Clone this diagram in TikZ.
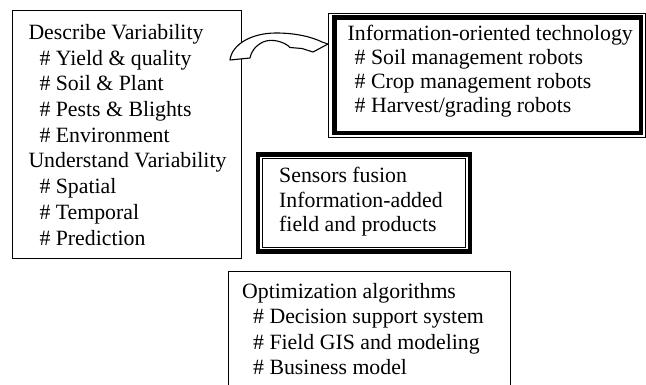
\documentclass[tikz,border=0pt]{standalone}
\usepackage{fontspec}
\setmainfont{Liberation Serif}
% lines of a text block; the block's baseline is that of its first line
\newcommand\stacklines[1]{\vtop{\halign{##\hfil\cr#1\crcr}}}
\newcommand\ind{\kern11pt}
\begin{document}
\begin{tikzpicture}[x=1pt,y=-1pt,
  txt/.style={anchor=base west, inner sep=0pt, font=\fontsize{21.8}{#1}\selectfont},
  txt/.default=25.5pt,
  box/.style={draw, line width=1.1pt, anchor=north west, inner sep=0pt},
  thinline/.style={draw, line width=0.9pt},
  heavyline/.style={draw, line width=4.6pt}]
\useasboundingbox (0,0) rectangle (646,385);

% left box: variability
\node[box, minimum width=229pt, minimum height=248pt] (varbox) at (12,10) {};
\node[txt=25.7pt] (vartext) at (28.3,39.5) {\stacklines{%
  Describe Variability\cr
  \ind\# Yield \& quality\cr
  \ind\# Soil \& Plant\cr
  \ind\# Pests \& Blights\cr
  \ind\# Environment\cr
  Understand Variability\cr
  \ind\# Spatial\cr
  \ind\# Temporal\cr
  \ind\# Prediction}};

% top right box: thin outer frame, heavy inner frame
\node[box, line width=0.9pt, minimum width=317pt, minimum height=124pt] (techbox) at (328,13) {};
\draw[heavyline] ([shift={(6.5,4.8)}]techbox.north west) rectangle ([shift={(-5,-4.8)}]techbox.south east);
\node[txt=23.8pt] (techtext) at (347.5,41) {\stacklines{%
  Information-oriented technology\cr
  \kern7pt\# Soil management robots\cr
  \kern7pt\# Crop management robots\cr
  \kern7pt\# Harvest/grading robots}};

% middle box: heavy outer frame, thin inner frame
\node[box, line width=4.8pt, minimum width=212pt, minimum height=97pt] (fusebox) at (255.5,152.5) {};
\draw[thinline] ([shift={(6.5,5.5)}]fusebox.north west) rectangle ([shift={(-6.5,-6.5)}]fusebox.south east);
\node[txt=24.5pt] (fusetext) at (279,183) {\stacklines{%
  Sensors fusion\cr
  Information-added\cr
  field and products}};

% bottom box, running past the lower edge
\begin{scope}
  \clip (0,0) rectangle (646,385);
  \node[box, minimum width=282pt, minimum height=130pt] (optbox) at (228,271) {};
\end{scope}
\node[txt=25.3pt] (opttext) at (242,298.5) {\stacklines{%
  Optimization algorithms\cr
  \ind\# Decision support system\cr
  \ind\# Field GIS and modeling\cr
  \ind\# Business model}};

% curved block arrow from the variability box to the technology box
\coordinate (tailout) at (230,60);
\coordinate (tailin) at (250,58);
\coordinate (tip) at (techbox.west |- 0,44);
\filldraw[fill=white, draw=black, line width=1.1pt, line join=round]
  (tailout) .. controls (232,44) and (252,33) .. (276,33)
  .. controls (296,33) and (312,37) .. (322,42) -- (tip)
  -- (313,52) -- (302,48.5) -- (290,47.5)
  .. controls (285,42) and (272,38) .. (263,42)
  .. controls (255,46) and (251,52) .. (tailin) -- cycle;
\end{tikzpicture}
\end{document}
